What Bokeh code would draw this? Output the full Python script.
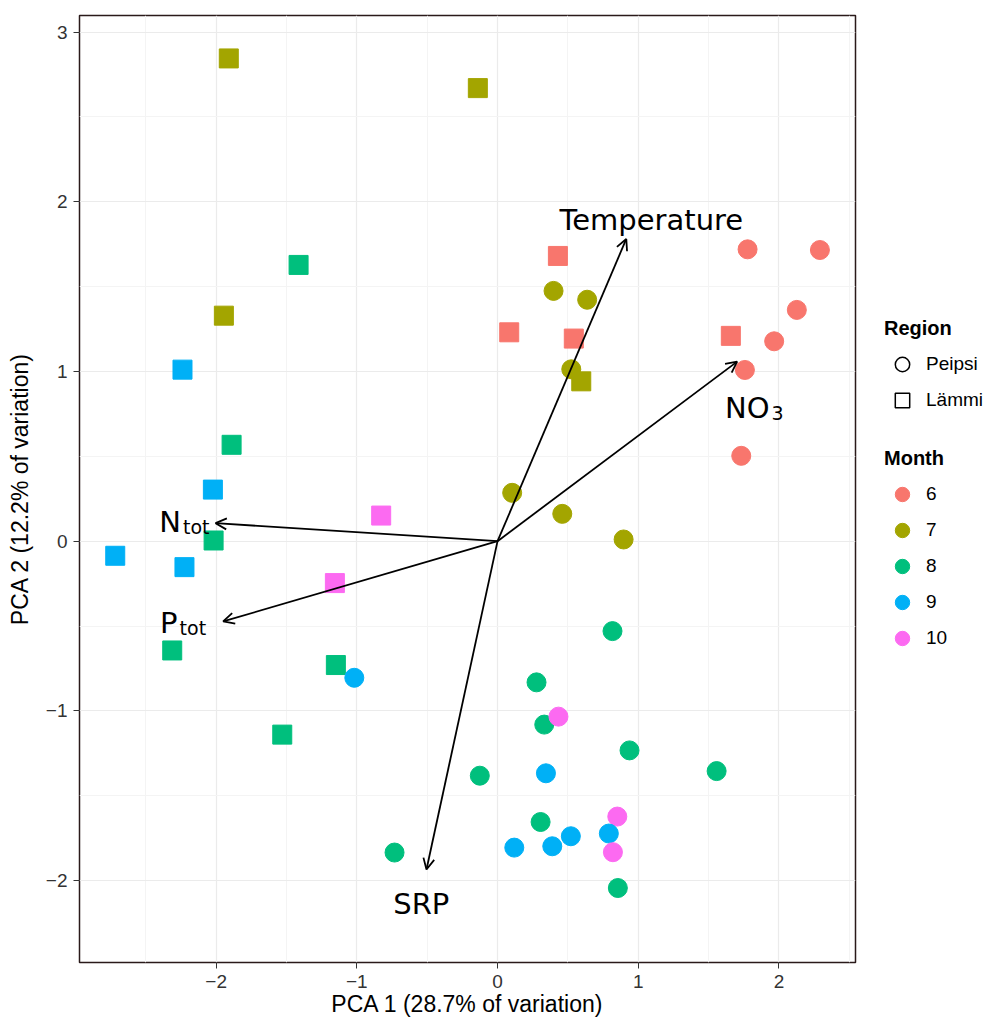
from bokeh.plotting import figure
from bokeh.layouts import row
from bokeh.models import (ColumnDataSource, Arrow, OpenHead, Legend, LegendItem,
                          FixedTicker, Range1d)
from bokeh.transform import factor_cmap, factor_mark
from bokeh.core.properties import value
from bokeh.embed import file_html
from bokeh.resources import INLINE

# ---- data ----
pc1 = [-1.91, -0.14, -1.414, -1.945, -2.239, -1.89, -2.023, -0.827, -2.717, -2.225,
       -2.018, -1.156, -2.312, -1.149, -1.530, 0.429, 0.083, 0.542, 0.595, 1.658,
       1.777, 2.291, 2.127, 1.966, 1.758, 1.732,
       0.398, 0.637, 0.524, 0.104, 0.460, 0.896,
       -0.126, -0.732, 0.817, 0.277, 0.332, 0.938, 1.557, 0.306, 0.855,
       0.851,
       -1.018, 0.344, 0.521, 0.791, 0.119, 0.389,
       0.433, 0.820]
pc2 = [2.845, 2.67, 1.628, 1.329, 1.011, 0.568, 0.304, 0.151, -0.086, -0.153,
       0.004, -0.247, -0.644, -0.730, -1.140, 1.681, 1.231, 1.194, 0.942, 1.210,
       1.720, 1.716, 1.363, 1.178, 1.009, 0.503,
       1.475, 1.423, 1.013, 0.285, 0.161, 0.010,
       -1.382, -1.835, -0.530, -0.832, -1.081, -1.233, -1.355, -1.655, -2.044,
       -1.623,
       -0.805, -1.368, -1.739, -1.723, -1.806, -1.798,
       -1.034, -1.833]
month = ["7", "7", "8", "7", "9", "8", "9", "10", "9", "9",
         "8", "10", "8", "8", "8", "6", "6", "6", "7", "6",
         "6", "6", "6", "6", "6", "6",
         "7", "7", "7", "7", "7", "7",
         "8", "8", "8", "8", "8", "8", "8", "8", "8",
         "10",
         "9", "9", "9", "9", "9", "9",
         "10", "10"]
region = ["Lämmi"] * 20 + ["Peipsi"] * 30

months = ["6", "7", "8", "9", "10"]
month_colors = ["#F8766D", "#A3A500", "#00BF7D", "#00B0F6", "#FC6AF1"]
regions = ["Peipsi", "Lämmi"]
region_markers = ["circle", "square"]

# loadings (arrow tips)
var_main = ["Temperature", "NO", "N", "P", "SRP"]
var_sub = ["", "3", "tot", "tot", ""]
load_x = [0.915, 1.703, -2.004, -1.950, -0.505]
load_y = [1.781, 1.058, 0.106, -0.473, -1.935]
label_x = [1.093, 1.933, -2.250, -2.274, -0.542]
label_y = [1.895, 0.786, 0.112, -0.485, -2.140]

x_ticks = [-2, -1, 0, 1, 2]
y_ticks = [-2, -1, 0, 1, 2, 3]

# ---- main figure ----
p = figure(width=870, height=1021, output_backend="svg", toolbar_location=None,
           x_range=Range1d(-2.971, 2.544), y_range=Range1d(-2.483, 3.098),
           min_border_left=79, min_border_right=15, min_border_top=15,
           min_border_bottom=59)
p.background_fill_color = "white"
p.border_fill_color = "white"
p.outline_line_color = "#2a1a1a"
p.outline_line_width = 1.5

for ax, ticks in ((p.xaxis[0], x_ticks), (p.yaxis[0], y_ticks)):
    ax.ticker = FixedTicker(ticks=ticks,
                            minor_ticks=[t + 0.5 for t in range(-3, 3)])
    ax.axis_line_color = None
    ax.major_tick_line_color = "#333333"
    ax.major_tick_out = 6
    ax.major_tick_in = 0
    ax.minor_tick_line_color = None
    ax.major_label_text_font = "Liberation Sans"
    ax.major_label_text_font_size = "19px"
    ax.major_label_text_color = "#333333"
    ax.axis_label_text_font = "Liberation Sans"
    ax.axis_label_text_font_size = "23px"
    ax.axis_label_text_font_style = "normal"
    ax.axis_label_text_color = "black"
    ax.major_label_overrides = {t: (("\u2212" + str(-t)) if t < 0 else str(t)) for t in ticks}

p.xaxis.axis_label = "PCA 1 (28.7% of variation)"
p.yaxis.axis_label = "PCA 2 (12.2% of variation)"
p.xaxis.major_label_standoff = 6
p.xaxis.axis_label_standoff = 0
p.yaxis.major_label_standoff = 6
p.yaxis.axis_label_standoff = 10

p.grid.grid_line_color = "#EBEBEB"
p.grid.grid_line_width = 1.2
p.grid.minor_grid_line_color = "#F4F4F4"
p.grid.minor_grid_line_width = 1

# ---- points ----
src = ColumnDataSource(dict(x=pc1, y=pc2, month=month, region=region))
p.scatter("x", "y", source=src, size=19,
          marker=factor_mark("region", region_markers, regions),
          fill_color=factor_cmap("month", month_colors, months),
          line_color=factor_cmap("month", month_colors, months))

# ---- loading arrows ----
for lx, ly in zip(load_x, load_y):
    p.add_layout(Arrow(x_start=0, y_start=0, x_end=lx, y_end=ly,
                       line_color="black", line_width=1.8,
                       end=OpenHead(size=11, line_width=1.8, line_color="black")))

lab = ColumnDataSource(dict(x=label_x, y=label_y, main=var_main, sub=var_sub,
                            align=["center", "right", "right", "right", "center"]))
p.text("x", "y", text="main", source=lab, text_font=value("DejaVu Sans"),
       text_font_size="29px", text_align="align", text_baseline="alphabetic",
       text_color="black")
p.text("x", "y", text="sub", source=lab, text_font=value("DejaVu Sans"),
       text_font_size="19px", text_align="left", text_baseline="alphabetic",
       text_color="black", x_offset=2, y_offset=5)

# ---- legend panel ----
lp = figure(width=119, height=1021, output_backend="svg", toolbar_location=None,
            x_range=Range1d(0, 1), y_range=Range1d(0, 1),
            min_border=0, outline_line_color=None)
lp.axis.visible = False
lp.grid.visible = False
lp.background_fill_color = "white"
lp.border_fill_color = "white"

# legend key renderers sit outside the visible range; only their legend glyphs show
reg_items = []
for r, m in zip(regions, region_markers):
    rr = lp.scatter(x=[-10], y=[-10], marker=m, fill_color=None, line_color="black",
                    line_width=1.5, size=18)
    reg_items.append(LegendItem(label=r, renderers=[rr]))
mon_items = []
for mo, c in zip(months, month_colors):
    rr = lp.scatter(x=[-10], y=[-10], marker="circle", fill_color=c, line_color=c,
                    size=18)
    mon_items.append(LegendItem(label=mo, renderers=[rr]))

for title, items, loc in (("Region", reg_items, (14, 544)),
                          ("Month", mon_items, (14, 306))):
    lg = Legend(items=items, title=title, location=loc,
                glyph_width=36, glyph_height=36, label_height=36,
                spacing=0, padding=0, margin=0, label_standoff=6,
                title_standoff=6,
                border_line_color=None, background_fill_alpha=0,
                label_text_font="Liberation Sans", label_text_font_size="19px",
                title_text_font="Liberation Sans", title_text_font_size="20px",
                title_text_font_style="bold", title_text_color="black",
                label_text_color="black")
    lp.add_layout(lg, "center")

layout = row(p, lp, spacing=0)
open("out.html", "w").write(file_html(layout, INLINE))
